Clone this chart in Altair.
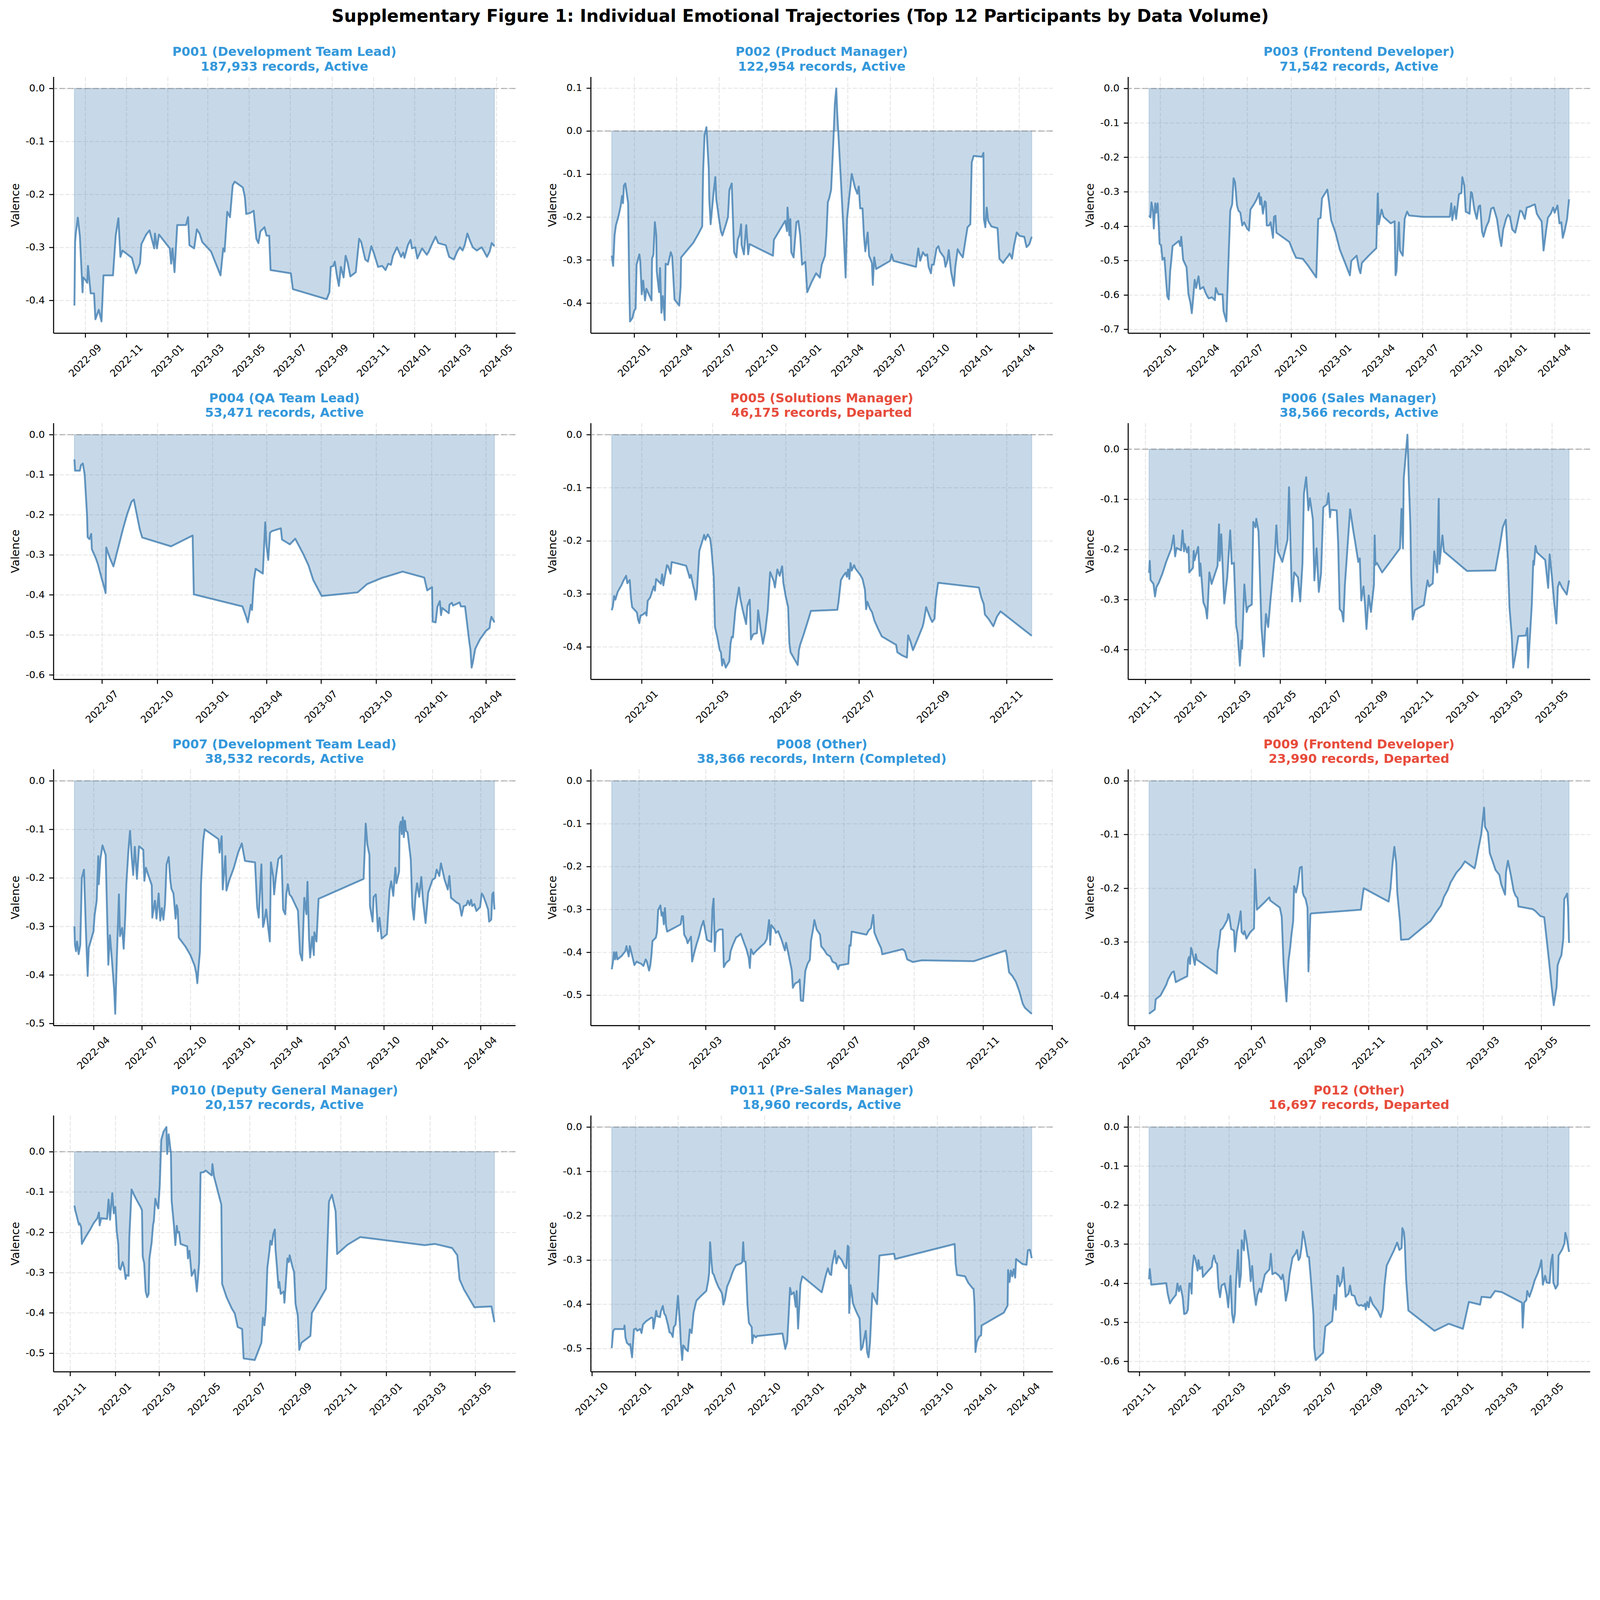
import math
import altair as alt
import pandas as pd

MAIN_TITLE = "Supplementary Figure 1: Individual Emotional Trajectories (Top 12 Participants by Data Volume)"

PANEL_IDS = ["P001", "P002", "P003", "P004", "P005", "P006", "P007", "P008", "P009", "P010", "P011", "P012"]
ROLES = ["Development Team Lead", "Product Manager", "Frontend Developer", "QA Team Lead", "Solutions Manager",
         "Sales Manager", "Development Team Lead", "Other", "Frontend Developer", "Deputy General Manager",
         "Pre-Sales Manager", "Other"]
RECORDS = ["187,933", "122,954", "71,542", "53,471", "46,175", "38,566", "38,532", "38,366", "23,990", "20,157",
           "18,960", "16,697"]
STATUS = ["Active", "Active", "Active", "Active", "Departed", "Active", "Active", "Intern (Completed)", "Departed",
          "Active", "Active", "Departed"]

XTICKS = [
    ["2022-09", "2022-11", "2023-01", "2023-03", "2023-05", "2023-07", "2023-09", "2023-11", "2024-01", "2024-03", "2024-05"],
    ["2022-01", "2022-04", "2022-07", "2022-10", "2023-01", "2023-04", "2023-07", "2023-10", "2024-01", "2024-04"],
    ["2022-01", "2022-04", "2022-07", "2022-10", "2023-01", "2023-04", "2023-07", "2023-10", "2024-01", "2024-04"],
    ["2022-07", "2022-10", "2023-01", "2023-04", "2023-07", "2023-10", "2024-01", "2024-04"],
    ["2022-01", "2022-03", "2022-05", "2022-07", "2022-09", "2022-11"],
    ["2021-11", "2022-01", "2022-03", "2022-05", "2022-07", "2022-09", "2022-11", "2023-01", "2023-03", "2023-05"],
    ["2022-04", "2022-07", "2022-10", "2023-01", "2023-04", "2023-07", "2023-10", "2024-01", "2024-04"],
    ["2022-01", "2022-03", "2022-05", "2022-07", "2022-09", "2022-11", "2023-01"],
    ["2022-03", "2022-05", "2022-07", "2022-09", "2022-11", "2023-01", "2023-03", "2023-05"],
    ["2021-11", "2022-01", "2022-03", "2022-05", "2022-07", "2022-09", "2022-11", "2023-01", "2023-03", "2023-05"],
    ["2021-10", "2022-01", "2022-04", "2022-07", "2022-10", "2023-01", "2023-04", "2023-07", "2023-10", "2024-01", "2024-04"],
    ["2021-11", "2022-01", "2022-03", "2022-05", "2022-07", "2022-09", "2022-11", "2023-01", "2023-03", "2023-05"],
]

P001 = [("2022-08-16",-0.410),("2022-08-17",-0.290),("2022-08-18",-0.274),("2022-08-21",-0.244),("2022-08-24",-0.278),("2022-08-28",-0.385),("2022-08-29",-0.357),("2022-09-01",-0.361),("2022-09-04",-0.367),("2022-09-05",-0.335),("2022-09-09",-0.387),("2022-09-14",-0.387),("2022-09-16",-0.436),("2022-09-21",-0.418),("2022-09-25",-0.440),("2022-09-28",-0.353),("2022-10-12",-0.353),("2022-10-16",-0.278),("2022-10-20",-0.245),("2022-10-23",-0.318),("2022-10-26",-0.306),("2022-11-09",-0.320),("2022-11-15",-0.349),("2022-11-21",-0.330),("2022-11-23",-0.294),("2022-11-30",-0.276),("2022-12-05",-0.268),("2022-12-12",-0.302),("2022-12-13",-0.274),("2022-12-16",-0.302),("2022-12-19",-0.276),("2023-01-04",-0.302),("2023-01-06",-0.331),("2023-01-08",-0.302),("2023-01-11",-0.347),("2023-01-15",-0.258),("2023-01-28",-0.258),("2023-01-31",-0.243),("2023-02-02",-0.296),("2023-02-09",-0.302),("2023-02-13",-0.266),("2023-02-17",-0.274),("2023-02-21",-0.290),("2023-03-06",-0.308),("2023-03-20",-0.353),("2023-03-24",-0.302),("2023-03-26",-0.308),("2023-03-30",-0.233),("2023-04-03",-0.243),("2023-04-07",-0.183),("2023-04-10",-0.176),("2023-04-22",-0.187),("2023-04-25",-0.205),("2023-04-27",-0.237),("2023-05-03",-0.235),("2023-05-08",-0.231),("2023-05-12",-0.284),("2023-05-15",-0.292),("2023-05-18",-0.270),("2023-05-24",-0.262),("2023-05-27",-0.278),("2023-05-31",-0.278),("2023-06-02",-0.343),("2023-07-02",-0.349),("2023-07-05",-0.379),("2023-08-24",-0.398),("2023-08-28",-0.385),("2023-08-30",-0.337),("2023-09-03",-0.335),("2023-09-05",-0.327),("2023-09-08",-0.353),("2023-09-11",-0.373),("2023-09-14",-0.337),("2023-09-18",-0.357),("2023-09-21",-0.316),("2023-09-24",-0.329),("2023-09-28",-0.355),("2023-10-06",-0.347),("2023-10-11",-0.284),("2023-10-14",-0.290),("2023-10-20",-0.323),("2023-10-24",-0.327),("2023-10-29",-0.298),("2023-11-02",-0.312),("2023-11-08",-0.337),("2023-11-14",-0.335),("2023-11-19",-0.343),("2023-11-23",-0.331),("2023-11-27",-0.333),("2023-11-30",-0.316),("2023-12-06",-0.300),("2023-12-12",-0.318),("2023-12-15",-0.310),("2023-12-17",-0.320),("2023-12-22",-0.296),("2023-12-26",-0.286),("2023-12-28",-0.302),("2024-01-02",-0.300),("2024-01-05",-0.321),("2024-01-12",-0.302),("2024-01-19",-0.314),("2024-01-22",-0.308),("2024-01-26",-0.296),("2024-02-01",-0.280),("2024-02-05",-0.292),("2024-02-16",-0.296),("2024-02-21",-0.318),("2024-02-28",-0.323),("2024-03-04",-0.308),("2024-03-08",-0.300),("2024-03-12",-0.306),("2024-03-15",-0.296),("2024-03-19",-0.274),("2024-03-23",-0.288),("2024-03-27",-0.300),("2024-04-02",-0.306),("2024-04-09",-0.300),("2024-04-12",-0.306),("2024-04-17",-0.318),("2024-04-21",-0.308),("2024-04-24",-0.292),("2024-04-28",-0.298)]

P002 = [("2021-11-14",-0.290),("2021-11-17",-0.314),("2021-11-20",-0.243),("2021-11-23",-0.219),("2021-11-28",-0.200),("2021-12-03",-0.175),("2021-12-06",-0.151),("2021-12-08",-0.168),("2021-12-10",-0.127),("2021-12-13",-0.122),("2021-12-19",-0.168),("2021-12-21",-0.336),("2021-12-23",-0.443),("2021-12-28",-0.435),("2022-01-01",-0.418),("2022-01-04",-0.413),("2022-01-06",-0.311),("2022-01-12",-0.287),("2022-01-14",-0.306),("2022-01-17",-0.380),("2022-01-20",-0.348),("2022-01-24",-0.394),("2022-01-27",-0.367),("2022-02-07",-0.394),("2022-02-08",-0.297),("2022-02-11",-0.287),("2022-02-14",-0.212),("2022-02-17",-0.243),("2022-02-18",-0.326),("2022-02-23",-0.375),("2022-02-25",-0.319),("2022-02-28",-0.423),("2022-03-03",-0.384),("2022-03-07",-0.440),("2022-03-09",-0.309),("2022-03-14",-0.311),("2022-03-20",-0.282),("2022-03-23",-0.292),("2022-03-28",-0.392),("2022-04-07",-0.406),("2022-04-10",-0.362),("2022-04-11",-0.294),("2022-05-07",-0.260),("2022-05-18",-0.239),("2022-05-26",-0.222),("2022-05-28",-0.093),("2022-05-31",-0.010),("2022-06-04",0.009),("2022-06-09",-0.088),("2022-06-10",-0.156),("2022-06-13",-0.217),("2022-06-19",-0.146),("2022-06-23",-0.107),("2022-06-25",-0.158),("2022-07-01",-0.205),("2022-07-05",-0.234),("2022-07-08",-0.243),("2022-07-15",-0.219),("2022-07-20",-0.200),("2022-07-23",-0.137),("2022-07-28",-0.122),("2022-08-02",-0.282),("2022-08-07",-0.294),("2022-08-10",-0.253),("2022-08-14",-0.241),("2022-08-17",-0.217),("2022-08-18",-0.265),("2022-08-23",-0.287),("2022-08-28",-0.219),("2022-09-01",-0.287),("2022-09-04",-0.263),("2022-10-24",-0.290),("2022-10-26",-0.253),("2022-11-19",-0.209),("2022-11-23",-0.233),("2022-11-24",-0.178),("2022-11-28",-0.243),("2022-11-30",-0.205),("2022-12-02",-0.282),("2022-12-07",-0.294),("2022-12-10",-0.253),("2022-12-13",-0.212),("2022-12-17",-0.209),("2022-12-21",-0.243),("2022-12-25",-0.311),("2023-01-01",-0.304),("2023-01-05",-0.375),("2023-01-15",-0.350),("2023-01-24",-0.331),("2023-02-01",-0.341),("2023-02-05",-0.311),("2023-02-12",-0.290),("2023-02-15",-0.243),("2023-02-18",-0.166),("2023-02-21",-0.156),("2023-02-25",-0.137),("2023-03-02",-0.020),("2023-03-05",0.063),("2023-03-08",0.099),("2023-03-10",0.043),("2023-03-18",-0.117),("2023-03-24",-0.243),("2023-03-28",-0.341),("2023-03-31",-0.205),("2023-04-05",-0.151),("2023-04-10",-0.100),("2023-04-17",-0.132),("2023-04-22",-0.146),("2023-04-25",-0.129),("2023-04-28",-0.180),("2023-05-03",-0.180),("2023-05-06",-0.243),("2023-05-09",-0.280),("2023-05-14",-0.236),("2023-05-17",-0.290),("2023-05-23",-0.307),("2023-05-25",-0.358),("2023-05-28",-0.294),("2023-06-01",-0.321),("2023-07-01",-0.302),("2023-07-04",-0.287),("2023-07-08",-0.302),("2023-08-25",-0.316),("2023-08-30",-0.273),("2023-09-03",-0.302),("2023-09-09",-0.282),("2023-09-14",-0.290),("2023-09-18",-0.287),("2023-09-21",-0.316),("2023-09-26",-0.331),("2023-09-28",-0.311),("2023-10-02",-0.311),("2023-10-08",-0.273),("2023-10-12",-0.268),("2023-10-15",-0.280),("2023-10-24",-0.294),("2023-10-27",-0.316),("2023-10-31",-0.302),("2023-11-03",-0.277),("2023-11-08",-0.328),("2023-11-14",-0.360),("2023-11-17",-0.316),("2023-11-22",-0.275),("2023-11-27",-0.285),("2023-12-03",-0.294),("2023-12-07",-0.265),("2023-12-13",-0.224),("2023-12-19",-0.217),("2023-12-22",-0.073),("2023-12-26",-0.058),("2024-01-13",-0.060),("2024-01-16",-0.051),("2024-01-17",-0.205),("2024-01-20",-0.224),("2024-01-23",-0.178),("2024-01-26",-0.209),("2024-02-02",-0.222),("2024-02-15",-0.226),("2024-02-19",-0.297),("2024-02-27",-0.307),("2024-03-04",-0.297),("2024-03-08",-0.292),("2024-03-12",-0.285),("2024-03-17",-0.297),("2024-03-21",-0.268),("2024-03-27",-0.236),("2024-04-02",-0.244),("2024-04-12",-0.246),("2024-04-17",-0.270),("2024-04-23",-0.263),("2024-04-28",-0.246)]

P003 = [("2021-12-09",-0.369),("2021-12-12",-0.375),("2021-12-14",-0.331),("2021-12-17",-0.355),("2021-12-19",-0.407),("2021-12-22",-0.334),("2021-12-24",-0.361),("2021-12-27",-0.334),("2021-12-31",-0.452),("2022-01-03",-0.455),("2022-01-06",-0.498),("2022-01-10",-0.492),("2022-01-13",-0.549),("2022-01-16",-0.604),("2022-01-19",-0.613),("2022-01-22",-0.531),("2022-01-25",-0.489),("2022-01-27",-0.458),("2022-02-09",-0.443),("2022-02-12",-0.458),("2022-02-14",-0.431),("2022-02-18",-0.498),("2022-02-25",-0.519),("2022-03-01",-0.598),("2022-03-05",-0.622),("2022-03-08",-0.653),("2022-03-11",-0.607),("2022-03-14",-0.556),("2022-03-17",-0.580),("2022-03-22",-0.546),("2022-03-25",-0.583),("2022-04-01",-0.577),("2022-04-07",-0.598),("2022-04-12",-0.610),("2022-04-19",-0.607),("2022-04-25",-0.615),("2022-04-27",-0.580),("2022-05-02",-0.598),("2022-05-11",-0.598),("2022-05-13",-0.647),("2022-05-19",-0.677),("2022-05-23",-0.513),("2022-05-27",-0.355),("2022-05-31",-0.337),("2022-06-03",-0.261),("2022-06-06",-0.273),("2022-06-10",-0.340),("2022-06-13",-0.355),("2022-06-17",-0.361),("2022-06-21",-0.398),("2022-06-25",-0.389),("2022-07-01",-0.407),("2022-07-05",-0.413),("2022-07-08",-0.352),("2022-07-15",-0.337),("2022-07-21",-0.322),("2022-07-26",-0.304),("2022-07-28",-0.337),("2022-07-30",-0.316),("2022-08-03",-0.364),("2022-08-07",-0.328),("2022-08-09",-0.331),("2022-08-11",-0.398),("2022-08-16",-0.398),("2022-08-19",-0.389),("2022-08-24",-0.434),("2022-08-26",-0.373),("2022-08-29",-0.370),("2022-08-31",-0.419),("2022-09-27",-0.446),("2022-10-05",-0.474),("2022-10-11",-0.492),("2022-10-25",-0.495),("2022-11-04",-0.513),("2022-11-22",-0.549),("2022-11-26",-0.379),("2022-12-01",-0.376),("2022-12-04",-0.319),("2022-12-15",-0.294),("2022-12-18",-0.325),("2022-12-23",-0.383),("2023-01-01",-0.419),("2023-01-10",-0.468),("2023-01-21",-0.507),("2023-01-31",-0.543),("2023-02-03",-0.501),("2023-02-14",-0.486),("2023-02-19",-0.525),("2023-02-22",-0.537),("2023-02-25",-0.507),("2023-03-11",-0.486),("2023-03-27",-0.464),("2023-03-30",-0.305),("2023-04-01",-0.395),("2023-04-07",-0.352),("2023-04-11",-0.373),("2023-04-26",-0.392),("2023-05-04",-0.386),("2023-05-06",-0.543),("2023-05-08",-0.531),("2023-05-13",-0.389),("2023-05-15",-0.471),("2023-05-21",-0.486),("2023-05-25",-0.379),("2023-05-30",-0.358),("2023-06-03",-0.369),("2023-07-02",-0.373),("2023-08-27",-0.373),("2023-08-30",-0.334),("2023-09-01",-0.383),("2023-09-06",-0.343),("2023-09-09",-0.379),("2023-09-15",-0.307),("2023-09-20",-0.304),("2023-09-22",-0.258),("2023-09-26",-0.282),("2023-09-29",-0.358),("2023-10-07",-0.364),("2023-10-10",-0.301),("2023-10-12",-0.304),("2023-10-17",-0.352),("2023-10-22",-0.379),("2023-10-26",-0.343),("2023-10-29",-0.340),("2023-11-02",-0.416),("2023-11-05",-0.431),("2023-11-11",-0.401),("2023-11-16",-0.386),("2023-11-21",-0.349),("2023-11-26",-0.346),("2023-12-03",-0.379),("2023-12-08",-0.428),("2023-12-12",-0.458),("2023-12-16",-0.410),("2023-12-22",-0.379),("2023-12-26",-0.367),("2023-12-30",-0.373),("2024-01-04",-0.410),("2024-01-10",-0.419),("2024-01-14",-0.395),("2024-01-20",-0.355),("2024-01-24",-0.358),("2024-01-30",-0.379),("2024-02-03",-0.346),("2024-02-10",-0.343),("2024-02-14",-0.340),("2024-02-20",-0.337),("2024-02-24",-0.364),("2024-02-29",-0.376),("2024-03-05",-0.386),("2024-03-09",-0.471),("2024-03-14",-0.416),("2024-03-18",-0.376),("2024-03-24",-0.364),("2024-03-29",-0.346),("2024-04-01",-0.361),("2024-04-07",-0.340),("2024-04-11",-0.392),("2024-04-15",-0.389),("2024-04-18",-0.434),("2024-04-22",-0.413),("2024-04-27",-0.379),("2024-05-01",-0.322)]

P004 = [("2022-05-16",-0.062),("2022-05-17",-0.090),("2022-05-25",-0.090),("2022-05-27",-0.076),("2022-05-30",-0.072),("2022-06-02",-0.099),("2022-06-06",-0.201),("2022-06-07",-0.256),("2022-06-10",-0.261),("2022-06-13",-0.248),("2022-06-14",-0.286),("2022-06-21",-0.310),("2022-06-24",-0.323),("2022-06-30",-0.357),("2022-07-04",-0.378),("2022-07-07",-0.396),("2022-07-08",-0.282),("2022-07-14",-0.308),("2022-07-20",-0.329),("2022-07-28",-0.282),("2022-08-05",-0.235),("2022-08-12",-0.198),("2022-08-17",-0.177),("2022-08-19",-0.168),("2022-08-23",-0.162),("2022-08-25",-0.177),("2022-09-02",-0.237),("2022-09-06",-0.257),("2022-10-24",-0.279),("2022-11-29",-0.252),("2022-12-01",-0.399),("2023-02-20",-0.429),("2023-02-26",-0.454),("2023-03-01",-0.469),("2023-03-06",-0.425),("2023-03-08",-0.438),("2023-03-11",-0.365),("2023-03-14",-0.335),("2023-03-26",-0.347),("2023-03-30",-0.219),("2023-04-01",-0.276),("2023-04-04",-0.313),("2023-04-07",-0.245),("2023-04-10",-0.241),("2023-04-25",-0.234),("2023-04-27",-0.262),("2023-05-10",-0.274),("2023-05-19",-0.260),("2023-06-01",-0.297),("2023-06-10",-0.326),("2023-06-18",-0.363),("2023-07-02",-0.403),("2023-08-31",-0.394),("2023-09-16",-0.373),("2023-10-12",-0.357),("2023-10-17",-0.355),("2023-11-14",-0.342),("2023-12-20",-0.357),("2023-12-25",-0.389),("2024-01-02",-0.381),("2024-01-03",-0.467),("2024-01-08",-0.469),("2024-01-11",-0.430),("2024-01-15",-0.416),("2024-01-17",-0.451),("2024-01-19",-0.433),("2024-01-30",-0.446),("2024-01-31",-0.425),("2024-02-04",-0.420),("2024-02-06",-0.427),("2024-02-17",-0.419),("2024-02-19",-0.429),("2024-02-26",-0.429),("2024-03-04",-0.516),("2024-03-06",-0.537),("2024-03-08",-0.582),("2024-03-10",-0.569),("2024-03-14",-0.535),("2024-03-22",-0.511),("2024-04-01",-0.490),("2024-04-07",-0.483),("2024-04-08",-0.469),("2024-04-10",-0.455),("2024-04-15",-0.469)]

P005 = [("2021-12-07",-0.331),("2021-12-08",-0.323),("2021-12-09",-0.304),("2021-12-10",-0.311),("2021-12-12",-0.296),("2021-12-15",-0.284),("2021-12-17",-0.274),("2021-12-19",-0.266),("2021-12-20",-0.280),("2021-12-22",-0.274),("2021-12-23",-0.307),("2021-12-24",-0.325),("2021-12-28",-0.335),("2021-12-29",-0.349),("2021-12-30",-0.355),("2021-12-31",-0.341),("2022-01-02",-0.339),("2022-01-04",-0.335),("2022-01-05",-0.341),("2022-01-06",-0.313),("2022-01-08",-0.307),("2022-01-11",-0.286),("2022-01-12",-0.294),("2022-01-13",-0.272),("2022-01-17",-0.281),("2022-01-18",-0.263),("2022-01-19",-0.284),("2022-01-22",-0.246),("2022-01-23",-0.248),("2022-01-25",-0.262),("2022-01-26",-0.240),("2022-02-07",-0.247),("2022-02-09",-0.262),("2022-02-10",-0.270),("2022-02-11",-0.264),("2022-02-13",-0.286),("2022-02-14",-0.294),("2022-02-15",-0.311),("2022-02-16",-0.296),("2022-02-18",-0.219),("2022-02-21",-0.197),("2022-02-22",-0.189),("2022-02-23",-0.198),("2022-02-25",-0.188),("2022-02-27",-0.196),("2022-02-28",-0.213),("2022-03-02",-0.268),("2022-03-03",-0.362),("2022-03-05",-0.382),("2022-03-07",-0.406),("2022-03-08",-0.410),("2022-03-09",-0.435),("2022-03-10",-0.423),("2022-03-12",-0.439),("2022-03-15",-0.427),("2022-03-16",-0.394),("2022-03-17",-0.381),("2022-03-18",-0.382),("2022-03-20",-0.331),("2022-03-23",-0.288),("2022-03-24",-0.307),("2022-03-26",-0.329),("2022-03-29",-0.357),("2022-03-30",-0.323),("2022-04-01",-0.311),("2022-04-02",-0.386),("2022-04-04",-0.376),("2022-04-07",-0.374),("2022-04-08",-0.331),("2022-04-10",-0.366),("2022-04-12",-0.394),("2022-04-14",-0.370),("2022-04-16",-0.331),("2022-04-18",-0.259),("2022-04-21",-0.276),("2022-04-22",-0.288),("2022-04-24",-0.254),("2022-04-26",-0.266),("2022-04-28",-0.248),("2022-04-29",-0.279),("2022-05-01",-0.305),("2022-05-03",-0.325),("2022-05-04",-0.392),("2022-05-05",-0.410),("2022-05-08",-0.422),("2022-05-11",-0.434),("2022-05-12",-0.406),("2022-05-13",-0.396),("2022-05-16",-0.376),("2022-05-20",-0.347),("2022-05-22",-0.332),("2022-06-13",-0.330),("2022-06-14",-0.315),("2022-06-16",-0.274),("2022-06-18",-0.266),("2022-06-20",-0.260),("2022-06-21",-0.268),("2022-06-22",-0.254),("2022-06-23",-0.272),("2022-06-24",-0.242),("2022-06-25",-0.256),("2022-06-27",-0.246),("2022-06-28",-0.252),("2022-07-02",-0.264),("2022-07-04",-0.272),("2022-07-06",-0.292),("2022-07-07",-0.329),("2022-07-08",-0.315),("2022-07-10",-0.327),("2022-07-12",-0.335),("2022-07-14",-0.351),("2022-07-17",-0.366),("2022-07-20",-0.380),("2022-08-01",-0.396),("2022-08-02",-0.410),("2022-08-06",-0.416),("2022-08-10",-0.420),("2022-08-11",-0.378),("2022-08-13",-0.390),("2022-08-15",-0.406),("2022-08-18",-0.390),("2022-08-23",-0.362),("2022-08-24",-0.353),("2022-08-26",-0.325),("2022-08-29",-0.343),("2022-08-31",-0.353),("2022-09-02",-0.347),("2022-09-03",-0.311),("2022-09-05",-0.279),("2022-10-09",-0.288),("2022-10-11",-0.307),("2022-10-13",-0.319),("2022-10-14",-0.339),("2022-10-17",-0.347),("2022-10-21",-0.361),("2022-10-24",-0.343),("2022-10-27",-0.333),("2022-11-22",-0.379)]

P006 = [("2021-11-06",-0.247),("2021-11-07",-0.223),("2021-11-08",-0.261),("2021-11-12",-0.269),("2021-11-14",-0.294),("2021-11-16",-0.275),("2021-11-19",-0.267),("2021-11-24",-0.248),("2021-11-29",-0.225),("2021-12-06",-0.198),("2021-12-09",-0.172),("2021-12-11",-0.214),("2021-12-13",-0.197),("2021-12-19",-0.202),("2021-12-21",-0.162),("2021-12-23",-0.204),("2021-12-24",-0.189),("2021-12-27",-0.206),("2021-12-29",-0.195),("2021-12-30",-0.246),("2022-01-04",-0.237),("2022-01-05",-0.203),("2022-01-06",-0.222),("2022-01-11",-0.195),("2022-01-13",-0.253),("2022-01-14",-0.228),("2022-01-18",-0.306),("2022-01-21",-0.317),("2022-01-23",-0.338),("2022-01-24",-0.310),("2022-01-26",-0.246),("2022-01-29",-0.269),("2022-02-06",-0.233),("2022-02-08",-0.150),("2022-02-09",-0.223),("2022-02-11",-0.170),("2022-02-15",-0.308),("2022-02-19",-0.256),("2022-02-23",-0.162),("2022-02-25",-0.229),("2022-02-28",-0.227),("2022-03-03",-0.352),("2022-03-05",-0.369),("2022-03-08",-0.432),("2022-03-10",-0.382),("2022-03-11",-0.398),("2022-03-12",-0.350),("2022-03-14",-0.270),("2022-03-17",-0.325),("2022-03-19",-0.315),("2022-03-24",-0.310),("2022-03-26",-0.145),("2022-03-29",-0.156),("2022-03-30",-0.139),("2022-04-02",-0.164),("2022-04-06",-0.357),("2022-04-09",-0.414),("2022-04-12",-0.329),("2022-04-15",-0.355),("2022-04-18",-0.302),("2022-04-24",-0.210),("2022-04-26",-0.152),("2022-04-28",-0.204),("2022-05-04",-0.225),("2022-05-07",-0.206),("2022-05-11",-0.181),("2022-05-13",-0.076),("2022-05-17",-0.304),("2022-05-20",-0.246),("2022-05-25",-0.256),("2022-05-28",-0.304),("2022-05-31",-0.229),("2022-06-02",-0.089),("2022-06-05",-0.056),("2022-06-08",-0.122),("2022-06-10",-0.098),("2022-06-14",-0.140),("2022-06-16",-0.262),("2022-06-19",-0.198),("2022-06-22",-0.285),("2022-06-25",-0.248),("2022-06-28",-0.116),("2022-07-03",-0.110),("2022-07-05",-0.088),("2022-07-07",-0.136),("2022-07-08",-0.121),("2022-07-16",-0.122),("2022-07-18",-0.189),("2022-07-20",-0.319),("2022-07-23",-0.325),("2022-07-25",-0.344),("2022-07-27",-0.271),("2022-07-31",-0.185),("2022-08-03",-0.120),("2022-08-07",-0.160),("2022-08-10",-0.187),("2022-08-14",-0.225),("2022-08-16",-0.218),("2022-08-18",-0.302),("2022-08-21",-0.274),("2022-08-23",-0.310),("2022-08-25",-0.359),("2022-08-28",-0.292),("2022-08-31",-0.325),("2022-09-04",-0.271),("2022-09-05",-0.172),("2022-09-06",-0.231),("2022-09-08",-0.227),("2022-09-15",-0.246),("2022-10-09",-0.198),("2022-10-11",-0.119),("2022-10-13",-0.198),("2022-10-14",-0.059),("2022-10-19",0.029),("2022-10-21",-0.068),("2022-10-23",-0.156),("2022-10-24",-0.254),("2022-10-26",-0.340),("2022-10-29",-0.321),("2022-11-10",-0.311),("2022-11-13",-0.281),("2022-11-15",-0.262),("2022-11-17",-0.274),("2022-11-22",-0.268),("2022-11-24",-0.204),("2022-11-28",-0.246),("2022-11-30",-0.099),("2022-12-01",-0.229),("2022-12-05",-0.172),("2022-12-07",-0.204),("2023-01-07",-0.243),("2023-02-14",-0.242),("2023-02-20",-0.193),("2023-02-24",-0.156),("2023-02-28",-0.141),("2023-03-03",-0.223),("2023-03-05",-0.315),("2023-03-08",-0.371),("2023-03-10",-0.436),("2023-03-13",-0.411),("2023-03-17",-0.373),("2023-03-27",-0.372),("2023-03-29",-0.357),("2023-03-30",-0.436),("2023-04-04",-0.310),("2023-04-06",-0.223),("2023-04-07",-0.231),("2023-04-09",-0.193),("2023-04-11",-0.206),("2023-04-22",-0.221),("2023-04-26",-0.277),("2023-04-28",-0.210),("2023-05-01",-0.254),("2023-05-04",-0.306),("2023-05-07",-0.348),("2023-05-09",-0.275),("2023-05-11",-0.265),("2023-05-15",-0.277),("2023-05-21",-0.290),("2023-05-24",-0.262)]

P007 = [("2022-02-24",-0.300),("2022-02-25",-0.338),("2022-02-27",-0.351),("2022-03-01",-0.331),("2022-03-04",-0.357),("2022-03-07",-0.338),("2022-03-10",-0.200),("2022-03-14",-0.183),("2022-03-18",-0.320),("2022-03-21",-0.402),("2022-03-23",-0.344),("2022-03-27",-0.329),("2022-04-01",-0.310),("2022-04-03",-0.278),("2022-04-07",-0.247),("2022-04-10",-0.155),("2022-04-11",-0.213),("2022-04-14",-0.161),("2022-04-18",-0.133),("2022-04-24",-0.153),("2022-04-29",-0.379),("2022-05-02",-0.318),("2022-05-06",-0.372),("2022-05-10",-0.430),("2022-05-12",-0.480),("2022-05-15",-0.368),("2022-05-19",-0.234),("2022-05-21",-0.320),("2022-05-25",-0.303),("2022-05-28",-0.346),("2022-05-31",-0.278),("2022-06-02",-0.213),("2022-06-06",-0.142),("2022-06-09",-0.103),("2022-06-12",-0.155),("2022-06-15",-0.194),("2022-06-18",-0.136),("2022-06-22",-0.202),("2022-06-26",-0.135),("2022-07-04",-0.142),("2022-07-06",-0.206),("2022-07-09",-0.179),("2022-07-14",-0.196),("2022-07-20",-0.215),("2022-07-21",-0.282),("2022-07-26",-0.247),("2022-07-29",-0.284),("2022-08-02",-0.232),("2022-08-05",-0.288),("2022-08-08",-0.262),("2022-08-11",-0.286),("2022-08-14",-0.254),("2022-08-17",-0.172),("2022-08-21",-0.157),("2022-08-24",-0.204),("2022-08-26",-0.222),("2022-08-30",-0.232),("2022-09-03",-0.284),("2022-09-05",-0.256),("2022-09-07",-0.265),("2022-09-09",-0.323),("2022-09-22",-0.342),("2022-10-01",-0.359),("2022-10-09",-0.381),("2022-10-12",-0.396),("2022-10-14",-0.417),("2022-10-16",-0.389),("2022-10-19",-0.351),("2022-10-21",-0.213),("2022-10-25",-0.125),("2022-10-28",-0.100),("2022-11-23",-0.120),("2022-11-25",-0.148),("2022-11-29",-0.114),("2022-12-01",-0.224),("2022-12-06",-0.155),("2022-12-08",-0.226),("2022-12-13",-0.206),("2022-12-22",-0.179),("2022-12-30",-0.148),("2023-01-06",-0.129),("2023-01-12",-0.165),("2023-01-31",-0.168),("2023-02-04",-0.260),("2023-02-07",-0.282),("2023-02-12",-0.172),("2023-02-15",-0.301),("2023-02-17",-0.293),("2023-02-21",-0.265),("2023-02-25",-0.304),("2023-02-28",-0.331),("2023-03-02",-0.168),("2023-03-06",-0.196),("2023-03-08",-0.234),("2023-03-11",-0.202),("2023-03-16",-0.161),("2023-03-22",-0.154),("2023-03-25",-0.265),("2023-03-29",-0.275),("2023-03-31",-0.234),("2023-04-03",-0.213),("2023-04-06",-0.234),("2023-04-10",-0.239),("2023-04-22",-0.267),("2023-04-26",-0.355),("2023-04-30",-0.370),("2023-05-04",-0.241),("2023-05-08",-0.275),("2023-05-10",-0.208),("2023-05-13",-0.325),("2023-05-15",-0.364),("2023-05-19",-0.321),("2023-05-22",-0.359),("2023-05-23",-0.312),("2023-05-27",-0.331),("2023-05-31",-0.243),("2023-08-24",-0.202),("2023-08-28",-0.088),("2023-08-31",-0.131),("2023-09-04",-0.153),("2023-09-05",-0.258),("2023-09-10",-0.290),("2023-09-12",-0.239),("2023-09-16",-0.234),("2023-09-20",-0.310),("2023-09-23",-0.282),("2023-09-27",-0.325),("2023-10-07",-0.316),("2023-10-12",-0.226),("2023-10-15",-0.207),("2023-10-19",-0.237),("2023-10-23",-0.179),("2023-10-25",-0.211),("2023-10-30",-0.187),("2023-10-31",-0.095),("2023-11-02",-0.084),("2023-11-04",-0.110),("2023-11-06",-0.075),("2023-11-08",-0.116),("2023-11-10",-0.082),("2023-11-12",-0.103),("2023-11-15",-0.106),("2023-11-21",-0.161),("2023-11-24",-0.260),("2023-11-27",-0.286),("2023-11-30",-0.237),("2023-12-03",-0.211),("2023-12-07",-0.239),("2023-12-11",-0.198),("2023-12-14",-0.245),("2023-12-19",-0.293),("2023-12-24",-0.230),("2024-01-01",-0.204),("2024-01-06",-0.200),("2024-01-09",-0.183),("2024-01-14",-0.196),("2024-01-17",-0.170),("2024-01-24",-0.204),("2024-01-30",-0.224),("2024-02-02",-0.196),("2024-02-05",-0.241),("2024-02-15",-0.250),("2024-02-21",-0.254),("2024-02-25",-0.278),("2024-02-29",-0.258),("2024-03-05",-0.256),("2024-03-08",-0.247),("2024-03-11",-0.256),("2024-03-14",-0.245),("2024-03-16",-0.258),("2024-03-20",-0.254),("2024-03-24",-0.268),("2024-03-31",-0.260),("2024-04-03",-0.232),("2024-04-06",-0.237),("2024-04-11",-0.252),("2024-04-15",-0.265),("2024-04-17",-0.290),("2024-04-21",-0.286),("2024-04-23",-0.234),("2024-04-25",-0.230),("2024-04-27",-0.265)]

P008 = [("2021-12-08",-0.440),("2021-12-09",-0.425),("2021-12-10",-0.400),("2021-12-11",-0.417),("2021-12-12",-0.400),("2021-12-13",-0.417),("2021-12-17",-0.408),("2021-12-20",-0.398),("2021-12-21",-0.386),("2021-12-23",-0.410),("2021-12-24",-0.386),("2021-12-26",-0.408),("2021-12-28",-0.430),("2021-12-30",-0.422),("2022-01-01",-0.425),("2022-01-03",-0.427),("2022-01-05",-0.432),("2022-01-07",-0.417),("2022-01-08",-0.422),("2022-01-10",-0.443),("2022-01-11",-0.432),("2022-01-12",-0.409),("2022-01-13",-0.374),("2022-01-16",-0.366),("2022-01-17",-0.352),("2022-01-18",-0.302),("2022-01-20",-0.291),("2022-01-21",-0.315),("2022-01-22",-0.307),("2022-01-23",-0.335),("2022-01-24",-0.297),("2022-01-25",-0.340),("2022-01-26",-0.352),("2022-02-07",-0.335),("2022-02-08",-0.316),("2022-02-09",-0.316),("2022-02-10",-0.359),("2022-02-12",-0.369),("2022-02-13",-0.379),("2022-02-16",-0.364),("2022-02-17",-0.422),("2022-02-19",-0.400),("2022-02-21",-0.381),("2022-02-23",-0.364),("2022-02-25",-0.342),("2022-02-27",-0.327),("2022-03-02",-0.371),("2022-03-04",-0.374),("2022-03-06",-0.376),("2022-03-07",-0.298),("2022-03-08",-0.275),("2022-03-09",-0.398),("2022-03-10",-0.354),("2022-03-13",-0.347),("2022-03-16",-0.347),("2022-03-17",-0.435),("2022-03-19",-0.425),("2022-03-22",-0.418),("2022-03-23",-0.398),("2022-03-25",-0.383),("2022-03-28",-0.365),("2022-03-29",-0.364),("2022-04-01",-0.357),("2022-04-04",-0.379),("2022-04-06",-0.393),("2022-04-08",-0.413),("2022-04-09",-0.437),("2022-04-10",-0.393),("2022-04-12",-0.405),("2022-04-15",-0.396),("2022-04-19",-0.386),("2022-04-22",-0.379),("2022-04-24",-0.369),("2022-04-25",-0.347),("2022-04-26",-0.325),("2022-04-27",-0.383),("2022-04-28",-0.337),("2022-05-01",-0.347),("2022-05-02",-0.355),("2022-05-04",-0.351),("2022-05-07",-0.371),("2022-05-09",-0.388),("2022-05-10",-0.396),("2022-05-11",-0.378),("2022-05-13",-0.403),("2022-05-16",-0.442),("2022-05-17",-0.483),("2022-05-19",-0.473),("2022-05-22",-0.469),("2022-05-23",-0.464),("2022-05-24",-0.513),("2022-05-26",-0.514),("2022-05-28",-0.444),("2022-05-30",-0.427),("2022-06-01",-0.418),("2022-06-02",-0.374),("2022-06-04",-0.344),("2022-06-05",-0.325),("2022-06-07",-0.347),("2022-06-10",-0.359),("2022-06-11",-0.386),("2022-06-14",-0.396),("2022-06-16",-0.405),("2022-06-19",-0.410),("2022-06-21",-0.422),("2022-06-23",-0.425),("2022-06-24",-0.426),("2022-06-26",-0.440),("2022-06-27",-0.431),("2022-07-01",-0.429),("2022-07-05",-0.427),("2022-07-06",-0.384),("2022-07-07",-0.385),("2022-07-08",-0.352),("2022-07-21",-0.359),("2022-07-23",-0.349),("2022-07-25",-0.344),("2022-07-27",-0.313),("2022-07-28",-0.354),("2022-07-31",-0.374),("2022-08-03",-0.391),("2022-08-04",-0.405),("2022-08-22",-0.393),("2022-08-24",-0.398),("2022-08-26",-0.417),("2022-08-31",-0.423),("2022-09-08",-0.419),("2022-10-24",-0.421),("2022-11-21",-0.396),("2022-11-22",-0.408),("2022-11-24",-0.447),("2022-11-27",-0.456),("2022-11-30",-0.469),("2022-12-03",-0.491),("2022-12-06",-0.520),("2022-12-08",-0.530),("2022-12-14",-0.544)]

P009 = [("2022-03-16",-0.434),("2022-03-19",-0.430),("2022-03-22",-0.426),("2022-03-23",-0.407),("2022-03-25",-0.404),("2022-03-28",-0.400),("2022-03-31",-0.390),("2022-04-03",-0.380),("2022-04-05",-0.370),("2022-04-08",-0.360),("2022-04-09",-0.357),("2022-04-11",-0.355),("2022-04-13",-0.375),("2022-04-17",-0.371),("2022-04-25",-0.364),("2022-04-26",-0.333),("2022-04-27",-0.328),("2022-04-28",-0.341),("2022-04-29",-0.311),("2022-04-30",-0.317),("2022-05-03",-0.343),("2022-05-04",-0.323),("2022-05-05",-0.333),("2022-05-26",-0.359),("2022-05-27",-0.317),("2022-05-28",-0.308),("2022-05-30",-0.278),("2022-06-01",-0.275),("2022-06-03",-0.269),("2022-06-06",-0.259),("2022-06-07",-0.248),("2022-06-08",-0.251),("2022-06-10",-0.276),("2022-06-13",-0.279),("2022-06-14",-0.318),("2022-06-16",-0.282),("2022-06-18",-0.265),("2022-06-20",-0.243),("2022-06-21",-0.282),("2022-06-23",-0.286),("2022-06-24",-0.280),("2022-06-26",-0.294),("2022-06-30",-0.282),("2022-07-04",-0.275),("2022-07-05",-0.165),("2022-07-07",-0.240),("2022-07-14",-0.228),("2022-07-20",-0.217),("2022-07-21",-0.223),("2022-07-31",-0.236),("2022-08-02",-0.253),("2022-08-04",-0.344),("2022-08-07",-0.411),("2022-08-09",-0.337),("2022-08-11",-0.309),("2022-08-12",-0.290),("2022-08-14",-0.261),("2022-08-15",-0.196),("2022-08-17",-0.208),("2022-08-19",-0.191),("2022-08-21",-0.162),("2022-08-23",-0.160),("2022-08-24",-0.208),("2022-08-25",-0.214),("2022-08-27",-0.220),("2022-08-29",-0.236),("2022-08-30",-0.355),("2022-09-01",-0.249),("2022-09-02",-0.247),("2022-10-24",-0.240),("2022-10-26",-0.211),("2022-10-27",-0.200),("2022-11-22",-0.225),("2022-11-24",-0.200),("2022-11-26",-0.156),("2022-11-28",-0.123),("2022-11-30",-0.154),("2022-12-01",-0.207),("2022-12-04",-0.263),("2022-12-05",-0.296),("2022-12-13",-0.295),("2023-01-05",-0.261),("2023-01-10",-0.247),("2023-01-16",-0.232),("2023-01-19",-0.216),("2023-01-23",-0.203),("2023-01-26",-0.189),("2023-02-01",-0.171),("2023-02-06",-0.161),("2023-02-10",-0.150),("2023-02-20",-0.163),("2023-02-21",-0.156),("2023-02-24",-0.127),("2023-02-27",-0.100),("2023-03-02",-0.050),("2023-03-03",-0.086),("2023-03-06",-0.096),("2023-03-08",-0.135),("2023-03-11",-0.150),("2023-03-14",-0.166),("2023-03-18",-0.175),("2023-03-20",-0.193),("2023-03-24",-0.212),("2023-03-25",-0.170),("2023-03-27",-0.149),("2023-03-30",-0.175),("2023-04-02",-0.205),("2023-04-04",-0.214),("2023-04-06",-0.218),("2023-04-07",-0.234),("2023-04-22",-0.239),("2023-04-25",-0.243),("2023-04-30",-0.252),("2023-05-04",-0.254),("2023-05-06",-0.286),("2023-05-09",-0.335),("2023-05-12",-0.387),("2023-05-14",-0.418),("2023-05-17",-0.384),("2023-05-18",-0.344),("2023-05-20",-0.333),("2023-05-22",-0.325),("2023-05-24",-0.294),("2023-05-25",-0.220),("2023-05-27",-0.214),("2023-05-28",-0.210),("2023-05-29",-0.236),("2023-05-30",-0.302)]

P010 = [("2021-11-07",-0.134),("2021-11-08",-0.145),("2021-11-10",-0.159),("2021-11-13",-0.181),("2021-11-14",-0.178),("2021-11-16",-0.187),("2021-11-17",-0.229),("2021-11-22",-0.212),("2021-11-28",-0.194),("2021-12-03",-0.177),("2021-12-08",-0.165),("2021-12-10",-0.151),("2021-12-11",-0.183),("2021-12-13",-0.165),("2021-12-21",-0.167),("2021-12-23",-0.119),("2021-12-25",-0.169),("2021-12-28",-0.103),("2021-12-30",-0.153),("2022-01-01",-0.137),("2022-01-03",-0.197),("2022-01-05",-0.229),("2022-01-06",-0.288),("2022-01-08",-0.293),("2022-01-11",-0.274),("2022-01-13",-0.288),("2022-01-15",-0.316),("2022-01-16",-0.306),("2022-01-19",-0.308),("2022-01-20",-0.212),("2022-01-23",-0.094),("2022-01-26",-0.106),("2022-01-29",-0.117),("2022-02-04",-0.137),("2022-02-06",-0.145),("2022-02-07",-0.260),("2022-02-09",-0.277),("2022-02-11",-0.347),("2022-02-13",-0.361),("2022-02-15",-0.353),("2022-02-16",-0.266),("2022-02-19",-0.226),("2022-02-21",-0.181),("2022-02-22",-0.173),("2022-02-24",-0.117),("2022-02-26",-0.131),("2022-02-28",-0.141),("2022-03-02",-0.083),("2022-03-04",0.029),("2022-03-07",0.049),("2022-03-11",0.061),("2022-03-12",-0.006),("2022-03-14",0.043),("2022-03-17",-0.004),("2022-03-18",-0.122),("2022-03-21",-0.181),("2022-03-23",-0.232),("2022-03-25",-0.184),("2022-03-26",-0.201),("2022-03-28",-0.199),("2022-03-30",-0.229),("2022-04-08",-0.235),("2022-04-09",-0.265),("2022-04-11",-0.246),("2022-04-14",-0.308),("2022-04-18",-0.293),("2022-04-21",-0.347),("2022-04-24",-0.277),("2022-04-26",-0.052),("2022-04-30",-0.051),("2022-05-03",-0.047),("2022-05-11",-0.059),("2022-05-12",-0.031),("2022-05-14",-0.061),("2022-05-24",-0.132),("2022-05-25",-0.328),("2022-05-31",-0.361),("2022-06-07",-0.389),("2022-06-11",-0.401),("2022-06-13",-0.417),("2022-06-15",-0.435),("2022-06-21",-0.440),("2022-06-23",-0.513),("2022-07-08",-0.517),("2022-07-17",-0.474),("2022-07-19",-0.412),("2022-07-21",-0.431),("2022-07-23",-0.392),("2022-07-25",-0.288),("2022-07-28",-0.243),("2022-07-29",-0.221),("2022-07-31",-0.231),("2022-08-02",-0.204),("2022-08-04",-0.193),("2022-08-05",-0.243),("2022-08-07",-0.288),("2022-08-09",-0.338),("2022-08-10",-0.323),("2022-08-12",-0.353),("2022-08-16",-0.347),("2022-08-17",-0.375),("2022-08-19",-0.322),("2022-08-21",-0.265),("2022-08-23",-0.274),("2022-08-24",-0.257),("2022-08-28",-0.287),("2022-08-30",-0.299),("2022-09-01",-0.378),("2022-09-04",-0.406),("2022-09-06",-0.492),("2022-09-09",-0.474),("2022-09-21",-0.457),("2022-09-23",-0.400),("2022-10-02",-0.372),("2022-10-12",-0.340),("2022-10-16",-0.124),("2022-10-20",-0.107),("2022-10-25",-0.148),("2022-10-27",-0.254),("2022-11-10",-0.231),("2022-11-27",-0.212),("2023-02-22",-0.232),("2023-03-08",-0.229),("2023-03-31",-0.239),("2023-04-07",-0.257),("2023-04-10",-0.317),("2023-04-16",-0.342),("2023-04-23",-0.364),("2023-04-30",-0.386),("2023-05-23",-0.384),("2023-05-27",-0.423)]

P011 = [("2021-11-12",-0.499),("2021-11-15",-0.461),("2021-11-18",-0.456),("2021-12-08",-0.456),("2021-12-09",-0.448),("2021-12-11",-0.475),("2021-12-14",-0.487),("2021-12-19",-0.492),("2021-12-21",-0.490),("2021-12-25",-0.520),("2021-12-29",-0.457),("2022-01-02",-0.455),("2022-01-05",-0.460),("2022-01-11",-0.456),("2022-01-14",-0.465),("2022-01-17",-0.446),("2022-01-24",-0.438),("2022-01-27",-0.436),("2022-02-04",-0.430),("2022-02-07",-0.432),("2022-02-08",-0.455),("2022-02-11",-0.437),("2022-02-14",-0.415),("2022-02-16",-0.427),("2022-02-22",-0.429),("2022-02-24",-0.416),("2022-02-28",-0.404),("2022-03-03",-0.421),("2022-03-06",-0.426),("2022-03-11",-0.447),("2022-03-14",-0.463),("2022-03-18",-0.466),("2022-03-21",-0.474),("2022-03-23",-0.452),("2022-03-27",-0.446),("2022-04-01",-0.381),("2022-04-05",-0.441),("2022-04-07",-0.488),("2022-04-10",-0.526),("2022-04-12",-0.493),("2022-04-14",-0.495),("2022-04-17",-0.501),("2022-04-22",-0.506),("2022-04-26",-0.457),("2022-04-30",-0.465),("2022-05-04",-0.419),("2022-05-10",-0.392),("2022-05-18",-0.383),("2022-05-31",-0.370),("2022-06-04",-0.347),("2022-06-06",-0.329),("2022-06-08",-0.260),("2022-06-11",-0.306),("2022-06-13",-0.329),("2022-06-16",-0.334),("2022-06-20",-0.347),("2022-06-26",-0.362),("2022-07-02",-0.373),("2022-07-04",-0.380),("2022-07-06",-0.401),("2022-07-09",-0.391),("2022-07-14",-0.360),("2022-07-20",-0.345),("2022-07-24",-0.332),("2022-07-29",-0.319),("2022-08-02",-0.312),("2022-08-12",-0.308),("2022-08-15",-0.305),("2022-08-17",-0.260),("2022-08-19",-0.303),("2022-08-22",-0.304),("2022-08-24",-0.350),("2022-08-26",-0.401),("2022-08-29",-0.442),("2022-09-04",-0.452),("2022-09-05",-0.488),("2022-09-08",-0.470),("2022-09-13",-0.475),("2022-09-15",-0.472),("2022-11-08",-0.466),("2022-11-14",-0.501),("2022-11-18",-0.485),("2022-11-21",-0.426),("2022-11-24",-0.363),("2022-11-27",-0.378),("2022-12-02",-0.373),("2022-12-06",-0.406),("2022-12-08",-0.370),("2022-12-11",-0.455),("2022-12-14",-0.396),("2022-12-16",-0.355),("2022-12-20",-0.337),("2023-01-30",-0.373),("2023-02-02",-0.360),("2023-02-07",-0.337),("2023-02-12",-0.319),("2023-02-16",-0.332),("2023-02-19",-0.334),("2023-02-21",-0.311),("2023-02-27",-0.279),("2023-03-02",-0.308),("2023-03-06",-0.291),("2023-03-13",-0.300),("2023-03-19",-0.314),("2023-03-23",-0.319),("2023-03-26",-0.268),("2023-03-28",-0.271),("2023-03-29",-0.420),("2023-04-01",-0.357),("2023-04-04",-0.380),("2023-04-06",-0.398),("2023-04-10",-0.409),("2023-04-14",-0.419),("2023-04-20",-0.432),("2023-04-23",-0.503),("2023-04-26",-0.498),("2023-05-03",-0.460),("2023-05-06",-0.508),("2023-05-09",-0.520),("2023-05-12",-0.488),("2023-05-14",-0.442),("2023-05-17",-0.375),("2023-05-22",-0.388),("2023-05-27",-0.400),("2023-06-01",-0.290),("2023-07-02",-0.286),("2023-07-04",-0.298),("2023-11-07",-0.264),("2023-11-09",-0.308),("2023-11-12",-0.334),("2023-11-29",-0.337),("2023-12-06",-0.352),("2023-12-15",-0.364),("2023-12-17",-0.365),("2023-12-19",-0.399),("2023-12-21",-0.508),("2023-12-24",-0.485),("2023-12-29",-0.473),("2024-01-02",-0.470),("2024-01-03",-0.448),("2024-02-19",-0.419),("2024-02-27",-0.403),("2024-02-28",-0.323),("2024-03-02",-0.350),("2024-03-05",-0.324),("2024-03-08",-0.337),("2024-03-11",-0.321),("2024-03-14",-0.340),("2024-03-16",-0.298),("2024-03-29",-0.309),("2024-04-07",-0.311),("2024-04-10",-0.278),("2024-04-14",-0.277),("2024-04-18",-0.296)]

P012 = [("2021-11-14",-0.390),("2021-11-15",-0.364),("2021-11-17",-0.404),("2021-12-07",-0.400),("2021-12-09",-0.427),("2021-12-12",-0.452),("2021-12-15",-0.442),("2021-12-20",-0.430),("2021-12-22",-0.401),("2021-12-24",-0.421),("2021-12-26",-0.407),("2021-12-29",-0.436),("2021-12-31",-0.479),("2022-01-03",-0.477),("2022-01-05",-0.468),("2022-01-07",-0.401),("2022-01-09",-0.401),("2022-01-10",-0.427),("2022-01-11",-0.364),("2022-01-13",-0.329),("2022-01-15",-0.338),("2022-01-18",-0.368),("2022-01-19",-0.341),("2022-01-21",-0.364),("2022-01-24",-0.358),("2022-01-25",-0.384),("2022-02-06",-0.358),("2022-02-07",-0.342),("2022-02-09",-0.329),("2022-02-11",-0.346),("2022-02-13",-0.350),("2022-02-15",-0.413),("2022-02-17",-0.436),("2022-02-19",-0.406),("2022-02-23",-0.401),("2022-02-26",-0.429),("2022-02-28",-0.462),("2022-03-03",-0.381),("2022-03-05",-0.477),("2022-03-07",-0.501),("2022-03-09",-0.477),("2022-03-10",-0.413),("2022-03-13",-0.315),("2022-03-15",-0.410),("2022-03-17",-0.378),("2022-03-18",-0.290),("2022-03-21",-0.316),("2022-03-22",-0.265),("2022-03-24",-0.285),("2022-03-28",-0.343),("2022-03-30",-0.395),("2022-04-01",-0.356),("2022-04-03",-0.413),("2022-04-06",-0.456),("2022-04-08",-0.430),("2022-04-11",-0.414),("2022-04-13",-0.423),("2022-04-15",-0.404),("2022-04-18",-0.378),("2022-04-22",-0.369),("2022-04-24",-0.365),("2022-04-26",-0.325),("2022-04-28",-0.377),("2022-05-02",-0.373),("2022-05-07",-0.381),("2022-05-10",-0.390),("2022-05-12",-0.378),("2022-05-14",-0.404),("2022-05-16",-0.445),("2022-05-19",-0.416),("2022-05-21",-0.378),("2022-05-25",-0.335),("2022-05-29",-0.324),("2022-05-31",-0.315),("2022-06-02",-0.341),("2022-06-04",-0.335),("2022-06-06",-0.309),("2022-06-08",-0.268),("2022-06-10",-0.285),("2022-06-14",-0.332),("2022-06-16",-0.333),("2022-06-19",-0.401),("2022-06-22",-0.482),("2022-06-23",-0.566),("2022-06-25",-0.597),("2022-07-05",-0.578),("2022-07-06",-0.552),("2022-07-08",-0.511),("2022-07-17",-0.497),("2022-07-20",-0.430),("2022-07-22",-0.468),("2022-07-24",-0.381),("2022-07-25",-0.383),("2022-07-27",-0.408),("2022-07-30",-0.395),("2022-08-01",-0.360),("2022-08-04",-0.435),("2022-08-08",-0.427),("2022-08-10",-0.406),("2022-08-12",-0.430),("2022-08-16",-0.433),("2022-08-19",-0.453),("2022-08-22",-0.458),("2022-08-25",-0.456),("2022-08-28",-0.459),("2022-08-30",-0.453),("2022-08-31",-0.468),("2022-09-02",-0.448),("2022-09-04",-0.462),("2022-09-06",-0.436),("2022-09-09",-0.453),("2022-09-16",-0.471),("2022-09-20",-0.487),("2022-09-23",-0.466),("2022-09-25",-0.407),("2022-09-28",-0.355),("2022-10-03",-0.335),("2022-10-08",-0.315),("2022-10-12",-0.296),("2022-10-15",-0.315),("2022-10-18",-0.310),("2022-10-19",-0.259),("2022-10-21",-0.269),("2022-10-22",-0.290),("2022-10-24",-0.390),("2022-10-27",-0.470),("2022-12-01",-0.522),("2022-12-20",-0.504),("2023-01-08",-0.517),("2023-01-10",-0.500),("2023-01-16",-0.448),("2023-01-31",-0.455),("2023-02-02",-0.435),("2023-02-14",-0.437),("2023-02-20",-0.420),("2023-03-01",-0.423),("2023-03-28",-0.450),("2023-03-29",-0.514),("2023-03-31",-0.450),("2023-04-03",-0.443),("2023-04-04",-0.420),("2023-04-07",-0.435),("2023-04-11",-0.413),("2023-04-14",-0.393),("2023-04-18",-0.375),("2023-04-21",-0.358),("2023-04-23",-0.341),("2023-04-25",-0.404),("2023-04-28",-0.381),("2023-04-30",-0.398),("2023-05-04",-0.400),("2023-05-06",-0.346),("2023-05-08",-0.327),("2023-05-09",-0.398),("2023-05-12",-0.414),("2023-05-15",-0.404),("2023-05-16",-0.329),("2023-05-21",-0.313),("2023-05-24",-0.297),("2023-05-25",-0.271),("2023-05-27",-0.285),("2023-05-30",-0.320)]

SERIES = [P001, P002, P003, P004, P005, P006, P007, P008, P009, P010, P011, P012]

LINE_COLOR = "#4682b4"
ACTIVE_COLOR = "#3498db"
DEPARTED_COLOR = "#e74c3c"
FONT = "DejaVu Sans"
PANEL_W = 1552
PANEL_H = 861
PAGE_W = 5370
PAGE_H = 4791
PLOT_LEFT = 177      # left edge of the first plot area on the page
PLOT_TOP = 259       # top edge of the first plot area on the page
LAYOUT_SHIFT = 749   # vertical offset that the layout adds above the first row


def to_ms(s):
    return int(pd.Timestamp(s, tz="UTC").value // 10**6)


panels = []
for i in range(12):
    df = pd.DataFrame(SERIES[i], columns=["date", "valence"])
    df["t"] = [to_ms(d) for d in df["date"]]
    t0, t1 = int(df["t"].min()), int(df["t"].max())
    span = t1 - t0
    xdom = [t0 - 0.05 * span, t1 + 0.05 * span]
    vmin = min(float(df["valence"].min()), 0.0)
    vmax = max(float(df["valence"].max()), 0.0)
    r = vmax - vmin
    ydom = [vmin - 0.05 * r, vmax + 0.05 * r]
    yt = [round(k * 0.1, 1) for k in range(math.ceil(ydom[0] * 10 - 1e-9), math.floor(ydom[1] * 10 + 1e-9) + 1)]
    xt = [to_ms(s + "-01") for s in XTICKS[i] if xdom[0] <= to_ms(s + "-01") <= xdom[1]]

    xaxis = alt.Axis(values=xt, labelExpr="utcFormat(datum.value, '%Y-%m')", labelAngle=315,
                     labelAlign="center", labelBaseline="middle", labelPadding=78, labelFontSize=33.3,
                     labelFont=FONT, labelColor="black", labelFlush=False, labelOverlap=False, labelLimit=600,
                     title=None,
                     grid=True, gridColor="#b0b0b0", gridOpacity=0.3, gridWidth=3.3, gridDash=[14, 6],
                     domainColor="black", domainWidth=3.5, tickColor="black", tickWidth=3.3, tickSize=14.6)
    yaxis = alt.Axis(values=yt, title="Valence", titleFontSize=37.5, titleFontWeight="normal", titleFont=FONT,
                     titleColor="black", titlePadding=14,
                     labelExpr="datum.value < 0 ? '-' + format(-datum.value, '.1f') : format(datum.value, '.1f')",
                     labelFontSize=33.3, labelFont=FONT, labelColor="black", labelPadding=14.6,
                     labelFlush=False, labelOverlap=False,
                     grid=True, gridColor="#b0b0b0", gridOpacity=0.3, gridWidth=3.3, gridDash=[14, 6],
                     domainColor="black", domainWidth=3.5, tickColor="black", tickWidth=3.3, tickSize=14.6)

    xenc = alt.X("t:T", scale=alt.Scale(type="utc", domain=xdom, nice=False), axis=xaxis)
    yenc = alt.Y("valence:Q", scale=alt.Scale(domain=ydom, nice=False, zero=False), axis=yaxis)

    area = alt.Chart(df).mark_area(fill=LINE_COLOR, fillOpacity=0.3, stroke=LINE_COLOR, strokeOpacity=0.25,
                                   strokeWidth=3).encode(x=xenc, y=yenc, y2=alt.datum(0))
    zero = alt.Chart(pd.DataFrame({"valence": [0.0]})).mark_rule(
        color="gray", opacity=0.5, strokeWidth=4, strokeDash=[20, 8]).encode(y=yenc)
    line = alt.Chart(df).mark_line(color=LINE_COLOR, opacity=0.8, strokeWidth=6.25, strokeJoin="round",
                                   strokeCap="butt").encode(x=xenc, y=yenc)

    color = DEPARTED_COLOR if STATUS[i] == "Departed" else ACTIVE_COLOR
    title = alt.TitleParams(text=[f"{PANEL_IDS[i]} ({ROLES[i]})", f"{RECORDS[i]} records, {STATUS[i]}"],
                            color=color, fontSize=42, fontWeight="bold", font=FONT, lineHeight=49,
                            offset=12, anchor="middle")
    panels.append(alt.layer(area, zero, line).properties(width=PANEL_W, height=PANEL_H, title=title))

pad_left = PLOT_LEFT - 8
pad_top = PLOT_TOP - 8 - LAYOUT_SHIFT
chart = alt.concat(*panels, columns=3, spacing={"row": 302, "column": 253}, bounds="flush").properties(
    title=alt.TitleParams(text=MAIN_TITLE, fontSize=58, fontWeight="bold", font=FONT, color="black",
                          anchor="middle", offset=69),
    autosize=alt.AutoSizeParams(type="none"),
    padding={"left": pad_left, "top": pad_top,
             "right": PAGE_W - 16 - pad_left, "bottom": PAGE_H - 16 - pad_top},
    background="white",
).configure_view(strokeWidth=0)

chart.save("out.html", embed_options={"renderer": "svg", "actions": False})
